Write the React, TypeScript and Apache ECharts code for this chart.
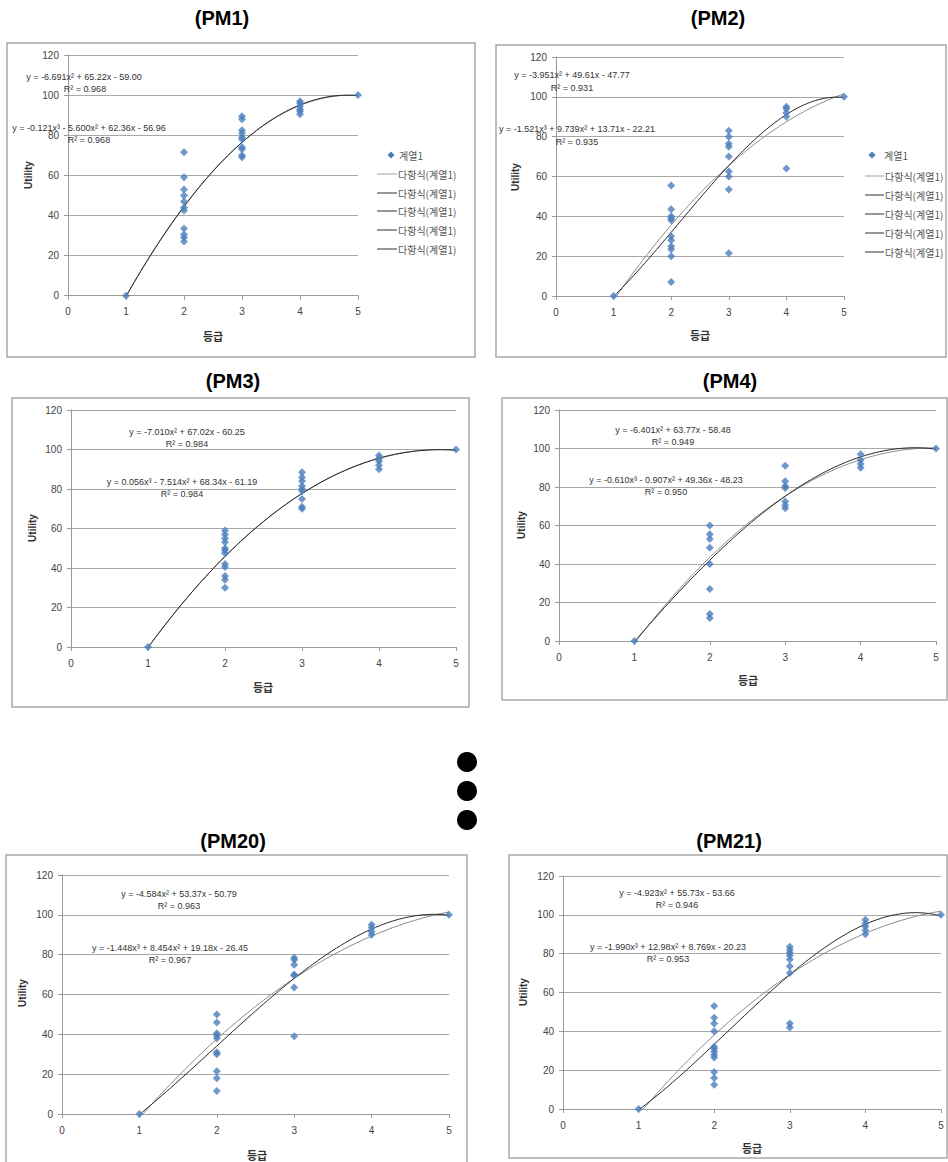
import React, { useEffect, useRef } from "react";
import * as echarts from "echarts";

// ---------- data ----------
const panelTitles = ["(PM1)", "(PM2)", "(PM3)", "(PM4)", "(PM20)", "(PM21)"];
const gradeValues = [1, 2, 3, 4, 5];
const xAxisMin = 0;
const xAxisMax = 5;
const yAxisMin = 0;
const yAxisMax = 120;
const seriesName = "계열1";
const trendName = "다항식(계열1)";
const xAxisTitle = "등급";
const yAxisTitle = "Utility";

// utilities per grade (index 0 -> grade 1)
const pm1Utility = [
  [0],
  [71.5, 59, 53, 50, 47, 44, 42.5, 33.5, 30.5, 29, 27],
  [89.5, 88, 82.5, 81, 79, 78, 74, 73, 70, 69],
  [97, 96, 94.5, 93, 92, 90.5],
  [100],
];
const pm2Utility = [
  [0],
  [55.5, 43.5, 40, 39, 38, 30, 28, 25, 23.5, 20, 7],
  [83, 80, 76.5, 75, 70, 62.5, 60, 53.5, 21.5],
  [95, 94, 92, 90, 64],
  [100],
];
const pm3Utility = [
  [0],
  [59, 57, 55, 53, 50, 49, 47.5, 42, 40.5, 36, 34, 30],
  [88.5, 86, 84, 81.5, 80, 79, 75, 71, 70],
  [97, 95.5, 94, 92, 90],
  [100],
];
const pm4Utility = [
  [0],
  [60, 55.5, 53, 48.5, 40, 27, 14, 12],
  [91, 83, 80.5, 79.5, 72.5, 70.5, 69],
  [97, 94, 92, 90],
  [100],
];
const pm20Utility = [
  [0],
  [50, 46, 40.5, 39.5, 38, 31, 30, 21.5, 18, 11.5],
  [78.5, 77.5, 75, 70, 69.5, 63.5, 39],
  [95, 93.5, 91.5, 90],
  [100],
];
const pm21Utility = [
  [0],
  [53, 47, 44, 40, 32, 31, 29.5, 28, 26.5, 19, 16, 12.5],
  [83.5, 82, 80.5, 79, 77, 73.5, 70, 44, 42],
  [97.5, 95.5, 94, 92, 90],
  [100],
];

// trendline coefficients as printed (highest power first)
const pm1Quadratic = [-6.691, 65.22, -59.0];
const pm1Cubic = [-0.121, -5.6, 62.36, -56.96];
const pm2Quadratic = [-3.951, 49.61, -47.77];
const pm2Cubic = [-1.521, 9.739, 13.71, -22.21];
const pm3Quadratic = [-7.01, 67.02, -60.25];
const pm3Cubic = [0.056, -7.514, 68.34, -61.19];
const pm4Quadratic = [-6.401, 63.77, -58.48];
const pm4Cubic = [-0.61, -0.907, 49.36, -48.23];
const pm20Quadratic = [-4.584, 53.37, -50.79];
const pm20Cubic = [-1.448, 8.454, 19.18, -26.45];
const pm21Quadratic = [-4.923, 55.73, -53.66];
const pm21Cubic = [-1.99, 12.98, 8.769, -20.23];

const quadLabels = [
  "y = -6.691x² + 65.22x - 59.00",
  "y = -3.951x² + 49.61x - 47.77",
  "y = -7.010x² + 67.02x - 60.25",
  "y = -6.401x² + 63.77x - 58.48",
  "y = -4.584x² + 53.37x - 50.79",
  "y = -4.923x² + 55.73x - 53.66",
];
const quadR2 = ["R² = 0.968", "R² = 0.931", "R² = 0.984", "R² = 0.949", "R² = 0.963", "R² = 0.946"];
const cubicLabels = [
  "y = -0.121x³ - 5.600x² + 62.36x - 56.96",
  "y = -1.521x³ + 9.739x² + 13.71x - 22.21",
  "y = 0.056x³ - 7.514x² + 68.34x - 61.19",
  "y = -0.610x³ - 0.907x² + 49.36x - 48.23",
  "y = -1.448x³ + 8.454x² + 19.18x - 26.45",
  "y = -1.990x³ + 12.98x² + 8.769x - 20.23",
];
const cubicR2 = ["R² = 0.968", "R² = 0.935", "R² = 0.984", "R² = 0.950", "R² = 0.967", "R² = 0.953"];

const allUtility = [pm1Utility, pm2Utility, pm3Utility, pm4Utility, pm20Utility, pm21Utility];
const allQuadratic = [pm1Quadratic, pm2Quadratic, pm3Quadratic, pm4Quadratic, pm20Quadratic, pm21Quadratic];
const allCubic = [pm1Cubic, pm2Cubic, pm3Cubic, pm4Cubic, pm20Cubic, pm21Cubic];

// ---------- layout ----------
type Pt = [number, number];
interface Layout {
  grid: [number, number, number, number];
  border: [number, number, number, number];
  title: Pt;
  yTitle: Pt;
  xTitle: Pt;
  eq1: Pt;
  r1: Pt;
  eq2: Pt;
  r2: Pt;
  legend?: { marker: Pt; textX: number; lineX: [number, number]; ys: number[] };
}
const layouts: Layout[] = [
  {
    grid: [68, 55, 290, 240.7], border: [7, 43, 468, 314], title: [222, 18], yTitle: [28, 175], xTitle: [213, 336],
    eq1: [84, 77], r1: [85, 89], eq2: [89, 128], r2: [89, 140],
    legend: { marker: [391, 155], textX: 399, lineX: [377, 397], ys: [174, 193, 211, 230, 249] },
  },
  {
    grid: [556, 57, 288, 239], border: [496, 45, 450, 312], title: [718, 18], yTitle: [515, 177], xTitle: [700, 335],
    eq1: [572, 75], r1: [572, 88], eq2: [577, 129], r2: [577, 142],
    legend: { marker: [872, 155], textX: 884, lineX: [865, 884], ys: [176, 195, 214, 233, 252] },
  },
  {
    grid: [71, 410, 385, 237], border: [12, 398, 457, 309], title: [233, 381], yTitle: [32, 528], xTitle: [263, 687],
    eq1: [187, 432], r1: [187, 444], eq2: [182, 482], r2: [182, 494],
  },
  {
    grid: [559, 410, 377, 231], border: [502, 398, 445, 302], title: [730, 381], yTitle: [521, 525], xTitle: [748, 680],
    eq1: [673, 430], r1: [673, 442], eq2: [666, 480], r2: [666, 492],
  },
  {
    grid: [62, 875, 387, 239], border: [6, 855, 461, 320], title: [233, 841], yTitle: [22, 993], xTitle: [257, 1155],
    eq1: [179, 894], r1: [179, 906], eq2: [170, 948], r2: [170, 960],
  },
  {
    grid: [563, 876, 378, 233], border: [509, 855, 438, 303], title: [729, 841], yTitle: [523, 992], xTitle: [752, 1148],
    eq1: [677, 893], r1: [677, 905], eq2: [668, 947], r2: [668, 959],
  },
];
const dotCenters: Pt[] = [[467, 762], [467, 791], [467, 820]];

const NUM_FONT = '"Liberation Sans", Arial, sans-serif';
const KR_FONT = '"Noto Sans CJK KR", "Liberation Sans", sans-serif';
const MARKER_COLOR = "#4a7ebb";
const QUAD_COLOR = "#8a8a8a";
const CUBIC_COLOR = "#262626";

function polyEval(c: number[], x: number): number {
  let v = 0;
  for (let i = 0; i < c.length; i++) v = v * x + c[i];
  return v;
}
function trendPoints(c: number[]): [number, number][] {
  const lo = gradeValues[0];
  const hi = gradeValues[gradeValues.length - 1];
  const steps = 80;
  const out: [number, number][] = [];
  for (let i = 0; i <= steps; i++) {
    const x = lo + ((hi - lo) * i) / steps;
    out.push([x, polyEval(c, x)]);
  }
  return out;
}

function buildOption() {
  const grids: any[] = [];
  const xAxes: any[] = [];
  const yAxes: any[] = [];
  const series: any[] = [];
  const graphic: any[] = [];

  layouts.forEach((L, i) => {
    grids.push({ left: L.grid[0], top: L.grid[1], width: L.grid[2], height: L.grid[3], containLabel: false });
    xAxes.push({
      type: "value", gridIndex: i, min: xAxisMin, max: xAxisMax, interval: 1,
      axisLine: { show: true, onZero: false, lineStyle: { color: "#9a9a9a", width: 1 } },
      axisTick: { show: true, length: 4, lineStyle: { color: "#9a9a9a" } },
      axisLabel: { color: "#444", fontSize: 10, fontFamily: NUM_FONT, margin: 11 },
      splitLine: { show: false },
    });
    yAxes.push({
      type: "value", gridIndex: i, min: yAxisMin, max: yAxisMax, interval: 20,
      axisLine: { show: true, lineStyle: { color: "#9a9a9a", width: 1 } },
      axisTick: { show: true, length: 4, lineStyle: { color: "#9a9a9a" } },
      axisLabel: { color: "#444", fontSize: 10, fontFamily: NUM_FONT, margin: 9 },
      splitLine: { show: true, lineStyle: { color: "#a8a8a8", width: 1 } },
    });

    const pts: [number, number][] = [];
    allUtility[i].forEach((vals, g) => vals.forEach((v) => pts.push([gradeValues[g], v])));
    series.push({
      name: seriesName, type: "scatter", xAxisIndex: i, yAxisIndex: i, symbol: "diamond", symbolSize: 8,
      itemStyle: { color: MARKER_COLOR }, data: pts, z: 3,
    });
    series.push({
      name: trendName, type: "line", xAxisIndex: i, yAxisIndex: i, symbol: "none", showSymbol: false,
      lineStyle: { color: QUAD_COLOR, width: 1 }, data: trendPoints(allQuadratic[i]), z: 2,
    });
    series.push({
      name: trendName, type: "line", xAxisIndex: i, yAxisIndex: i, symbol: "none", showSymbol: false,
      lineStyle: { color: CUBIC_COLOR, width: 1 }, data: trendPoints(allCubic[i]), z: 2,
    });

    graphic.push({
      type: "rect", silent: true, z: 0,
      shape: { x: L.border[0], y: L.border[1], width: L.border[2], height: L.border[3] },
      style: { fill: "none", stroke: "#a9a9a9", lineWidth: 1.5 },
    });
    graphic.push({
      type: "text", x: L.title[0], y: L.title[1],
      style: { text: panelTitles[i], font: `bold 20px ${NUM_FONT}`, fill: "#000", align: "center", verticalAlign: "middle" },
    });
    graphic.push({
      type: "text", x: L.yTitle[0], y: L.yTitle[1], rotation: Math.PI / 2,
      style: { text: yAxisTitle, font: `bold 10px ${NUM_FONT}`, fill: "#333", align: "center", verticalAlign: "middle" },
    });
    graphic.push({
      type: "text", x: L.xTitle[0], y: L.xTitle[1],
      style: { text: xAxisTitle, font: `bold 11px ${KR_FONT}`, fill: "#333", align: "center", verticalAlign: "middle" },
    });
    const eqs: [Pt, string][] = [
      [L.eq1, quadLabels[i]], [L.r1, quadR2[i]], [L.eq2, cubicLabels[i]], [L.r2, cubicR2[i]],
    ];
    eqs.forEach(([p, t]) => {
      graphic.push({
        type: "text", x: p[0], y: p[1], z: 5,
        style: { text: t, font: `9px ${NUM_FONT}`, fill: "#333", align: "center", verticalAlign: "middle" },
      });
    });

    if (L.legend) {
      const lg = L.legend;
      const [mx, my] = lg.marker;
      graphic.push({
        type: "polygon",
        shape: { points: [[mx, my - 3.5], [mx + 3.5, my], [mx, my + 3.5], [mx - 3.5, my]] },
        style: { fill: MARKER_COLOR },
      });
      graphic.push({
        type: "text", x: lg.textX, y: my,
        style: { text: seriesName, font: `10px ${KR_FONT}`, fill: "#555", align: "left", verticalAlign: "middle" },
      });
      lg.ys.forEach((yy, k) => {
        graphic.push({
          type: "line", shape: { x1: lg.lineX[0], y1: yy, x2: lg.lineX[1], y2: yy },
          style: { stroke: k === 0 ? "#a0a0a0" : "#303030", lineWidth: 1 },
        });
        graphic.push({
          type: "text", x: lg.lineX[1] + 1, y: yy,
          style: { text: trendName, font: `10px ${KR_FONT}`, fill: "#555", align: "left", verticalAlign: "middle" },
        });
      });
    }
  });

  dotCenters.forEach(([cx, cy]) => {
    graphic.push({ type: "circle", shape: { cx, cy, r: 10 }, style: { fill: "#000" } });
  });

  return {
    animation: false,
    backgroundColor: "#fff",
    grid: grids,
    xAxis: xAxes,
    yAxis: yAxes,
    series,
    graphic,
  };
}

export default function App() {
  const ref = useRef<HTMLDivElement>(null);
  useEffect(() => {
    if (!ref.current) return;
    const chart = echarts.init(ref.current, undefined, { renderer: "svg" });
    chart.setOption(buildOption() as any);
    return () => chart.dispose();
  }, []);
  return (
    <div
      ref={ref}
      style={{ position: "absolute", left: 0, top: 0, width: 948, height: 1162, background: "#fff" }}
    />
  );
}
